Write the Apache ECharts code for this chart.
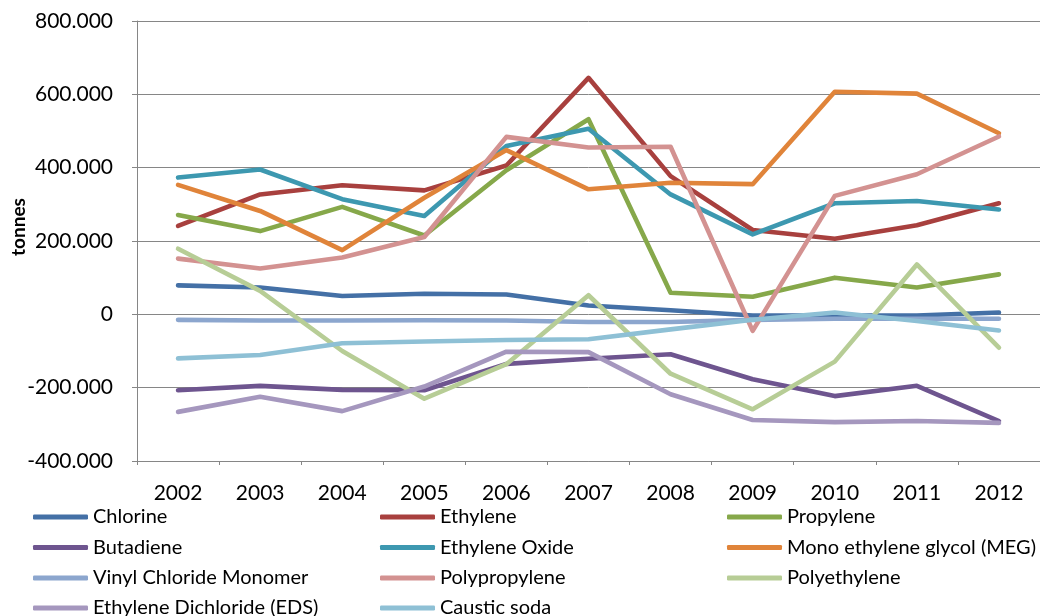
<!DOCTYPE html>
<html>
<head>
<meta charset="utf-8">
<style>
  html, body { margin: 0; padding: 0; background: #ffffff; }
  #chart { width: 1040px; height: 616px; }
</style>
<script src="https://cdn.jsdelivr.net/npm/echarts@6/dist/echarts.min.js"></script>
</head>
<body>
<div id="chart"></div>
<script>
// Net trade balance of basic chemicals, 2002-2012 (tonnes)
const years = ['2002','2003','2004','2005','2006','2007','2008','2009','2010','2011','2012'];

const chlorine      = [79000, 73000, 50000, 56000, 54000, 24000, 11000, -3000, -3000, -3000, 5000];
const ethylene      = [241000, 327000, 352000, 338000, 406000, 645000, 377000, 230000, 206000, 243000, 303000];
const propylene     = [271000, 227000, 293000, 215000, 393000, 532000, 59000, 48000, 100000, 73000, 109000];
const butadiene     = [-207000, -195000, -206000, -207000, -135000, -121000, -109000, -177000, -223000, -195000, -291000];
const ethyleneOxide = [373000, 395000, 314000, 268000, 459000, 506000, 327000, 218000, 303000, 309000, 286000];
const meg           = [353000, 282000, 175000, 318000, 448000, 341000, 359000, 355000, 607000, 602000, 494000];
const vcm           = [-15000, -17000, -17000, -16000, -17000, -21000, -21000, -15000, -12000, -12000, -12000];
const polypropylene = [152000, 125000, 155000, 211000, 484000, 455000, 457000, -45000, 323000, 382000, 485000];
const polyethylene  = [179000, 64000, -100000, -230000, -136000, 52000, -162000, -259000, -129000, 136000, -91000];
const eds           = [-266000, -225000, -264000, -197000, -102000, -103000, -218000, -288000, -294000, -291000, -296000];
const causticSoda   = [-120000, -111000, -79000, -74000, -70000, -68000, -41000, -15000, 5000, -18000, -44000];

const seriesDefs = [
  { name: 'Chlorine', data: chlorine, color: '#4470A6' },
  { name: 'Ethylene', data: ethylene, color: '#A8403E' },
  { name: 'Propylene', data: propylene, color: '#86A84A' },
  { name: 'Butadiene', data: butadiene, color: '#6E558F' },
  { name: 'Ethylene Oxide', data: ethyleneOxide, color: '#3D98B0' },
  { name: 'Mono ethylene glycol (MEG)', data: meg, color: '#E0843A' },
  { name: 'Vinyl Chloride Monomer', data: vcm, color: '#8CA6CE' },
  { name: 'Polypropylene', data: polypropylene, color: '#D39291' },
  { name: 'Polyethylene', data: polyethylene, color: '#B7CD96' },
  { name: 'Ethylene Dichloride (EDS)', data: eds, color: '#A597BE' },
  { name: 'Caustic soda', data: causticSoda, color: '#8EC0D5' }
];

const FONT = 'Lato, "Liberation Sans", sans-serif';
const TEXT = '#000000';
const GRID = '#868686';

// 800000 -> "800.000"
function fmt(v) {
  if (v === 0) return '0';
  const s = Math.abs(v).toString().replace(/\B(?=(\d{3})+(?!\d))/g, '.');
  return (v < 0 ? '-' : '') + s;
}

// Legend laid out in three columns, filled row by row
const legendColX = [33, 380, 727];
const legendRowY = [517, 547.5, 578, 608];

const legends = seriesDefs.map((s, i) => ({
  left: legendColX[i % 3],
  top: legendRowY[Math.floor(i / 3)] - 10,
  padding: 0,
  data: [s.name],
  icon: 'roundRect',
  itemWidth: 55,
  itemHeight: 5,
  selectedMode: false,
  textStyle: { fontFamily: FONT, fontSize: 20, color: TEXT, lineHeight: 20 }
}));

const chart = echarts.init(document.getElementById('chart'), null, { renderer: 'canvas' });

chart.setOption({
  animation: false,
  backgroundColor: '#ffffff',
  textStyle: { fontFamily: FONT },
  grid: { left: 137, right: -14, top: 21, bottom: 155, containLabel: false },
  legend: legends,
  xAxis: [
    {
      type: 'category',
      data: years,
      position: 'bottom',
      boundaryGap: true,
      axisLine: { show: false },
      axisTick: { show: false },
      axisLabel: { color: TEXT, fontSize: 21, fontFamily: FONT, margin: 22 },
      splitLine: { show: false }
    },
    {
      type: 'category',
      data: years,
      position: 'bottom',
      boundaryGap: true,
      axisLine: { show: true, onZero: true, lineStyle: { color: GRID, width: 1 } },
      axisTick: { show: true, length: 4, lineStyle: { color: GRID } },
      axisLabel: { show: false },
      splitLine: { show: false }
    }
  ],
  yAxis: {
    type: 'value',
    min: -400000,
    max: 800000,
    interval: 200000,
    axisLine: { show: true, lineStyle: { color: GRID, width: 1 } },
    axisTick: { show: true, length: 5, lineStyle: { color: GRID } },
    axisLabel: { color: TEXT, fontSize: 21, fontFamily: FONT, margin: 24, formatter: fmt },
    splitLine: { show: true, lineStyle: { color: GRID, width: 1 } }
  },
  graphic: [
    {
      type: 'text',
      x: 19,
      y: 227,
      rotation: Math.PI / 2,
      style: {
        text: 'tonnes',
        fill: TEXT,
        font: 'bold 19px ' + FONT,
        textAlign: 'center',
        textVerticalAlign: 'middle'
      }
    }
  ],
  series: seriesDefs.map(s => ({
    name: s.name,
    type: 'line',
    xAxisIndex: 0,
    data: s.data,
    symbol: 'none',
    smooth: false,
    color: s.color,
    lineStyle: { color: s.color, width: 4.6, cap: 'round', join: 'round' },
    itemStyle: { color: s.color },
    emphasis: { disabled: true }
  }))
});
</script>
</body>
</html>
